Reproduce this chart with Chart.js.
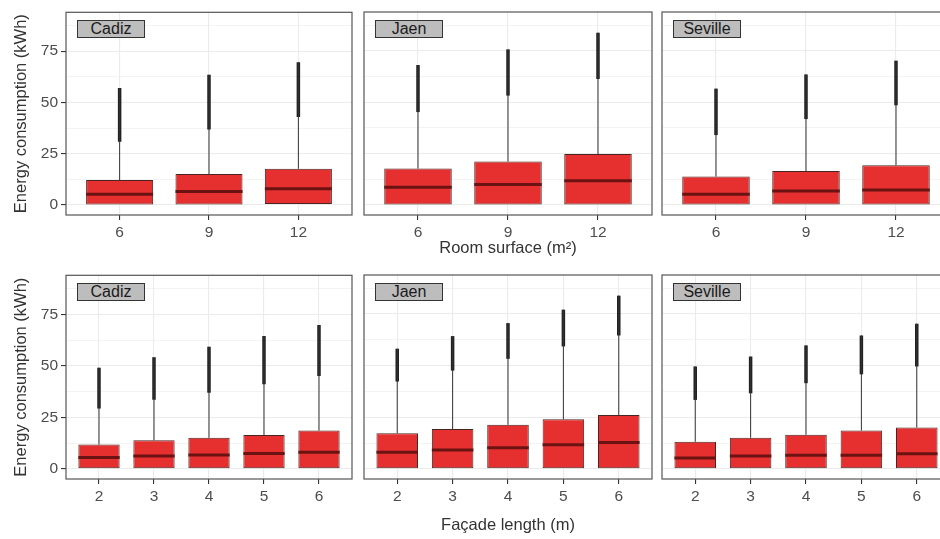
<!DOCTYPE html>
<html>
<head>
<meta charset="utf-8">
<script src="https://cdn.jsdelivr.net/npm/chart.js@4.4.1/dist/chart.umd.min.js"></script>
<style>
  body { margin: 0; width: 940px; height: 539px; overflow: hidden; background: #fff; position: relative;
         font-family: "Liberation Sans", Arial, sans-serif; }
  .panel { position: absolute; }
  .strip { position: absolute; width: 66px; height: 16px; background: #bdbdbd; border: 1px solid #333;
           font-size: 16px; line-height: 16px; text-align: center; color: #1a1a1a; }
</style>
</head>
<body>
<script>
// facets and x categories
const cities = ['Cadiz', 'Jaen', 'Seville'];
const roomLabels = ['6', '9', '12'];
const facadeLabels = ['2', '3', '4', '5', '6'];

// room surface boxplots, one row per city (kWh)
const roomQ1      = [[0, 0, 0.5], [0, 0, 0], [0, 0, 0]];
const roomMedian  = [[5.2, 6.6, 7.9], [8.6, 10.0, 11.8], [5.2, 6.8, 7.3]];
const roomQ3      = [[12.2, 15.1, 17.7], [17.7, 21.1, 24.8], [13.8, 16.5, 19.3]];
const roomWhisker = [[30.8, 36.8, 42.9], [45.2, 53.2, 61.3], [34.0, 41.8, 48.5]];
const roomMax     = [[57.0, 63.4, 69.5], [68.1, 75.7, 83.8], [56.6, 63.5, 70.2]];

// facade length boxplots, one row per city (kWh)
const facadeQ1      = [[0, 0, 0, 0, 0], [0, 0, 0, 0, 0], [0, 0, 0, 0, 0]];
const facadeMedian  = [[5.5, 6.2, 6.8, 7.5, 8.1], [8.1, 9.2, 10.2, 11.7, 12.8], [5.3, 6.2, 6.6, 6.6, 7.3]];
const facadeQ3      = [[11.8, 13.9, 15.1, 16.5, 18.6], [17.2, 19.3, 21.4, 24.0, 26.1], [13.1, 15.1, 16.5, 18.6, 20.1]];
const facadeWhisker = [[29.3, 33.5, 36.9, 41.0, 45.0], [42.3, 47.6, 53.3, 59.3, 64.6], [33.4, 36.6, 41.5, 45.8, 49.6]];
const facadeMax     = [[49.1, 54.1, 59.3, 64.5, 69.8], [58.2, 64.3, 70.6, 77.1, 83.9], [49.6, 54.4, 59.8, 64.6, 70.3]];

const yTicks = [0, 25, 50, 75];

const boxFill = '#e5302f';
const boxLine = '#4a2323';
const medianColor = '#6b1212';
const gridColor = '#ebebeb';

const panelBorder = {
  id: 'panelBorder',
  afterDatasetsDraw(chart) {
    const a = chart.chartArea, ctx = chart.ctx;
    ctx.save();
    ctx.strokeStyle = '#555';
    ctx.lineWidth = 1.2;
    ctx.strokeRect(a.left, a.top, a.width, a.height);
    ctx.restore();
  }
};

const cols = [
  { left: 0, width: 353 },
  { left: 363, width: 290 },
  { left: 661, width: 290 }
];
const rows = [
  { top: 0, height: 262, xh: 47, labels: roomLabels, title: 'Room surface (m²)',
    q1: roomQ1, med: roomMedian, q3: roomQ3, wh: roomWhisker, mx: roomMax },
  { top: 263, height: 276, xh: 60, labels: facadeLabels, title: 'Façade length (m)',
    q1: facadeQ1, med: facadeMedian, q3: facadeQ3, wh: facadeWhisker, mx: facadeMax }
];

rows.forEach(row => {
  cols.forEach((col, c) => {
    const box = document.createElement('div');
    box.className = 'panel';
    box.style.left = col.left + 'px';
    box.style.top = row.top + 'px';
    const canvas = document.createElement('canvas');
    canvas.width = col.width;
    canvas.height = row.height;
    box.appendChild(canvas);
    document.body.appendChild(box);

    const labels = row.labels;
    const idx = labels.map((_, i) => i);
    const span = (lo, hi) => idx.map(i => ({ x: i, y: [lo[c][i], hi[c][i]] }));
    const isLeft = c === 0, isMid = c === 1;

    const chart = new Chart(canvas, {
      type: 'bar',
      data: {
        datasets: [
          {
            type: 'line', order: 0, showLine: false,
            data: idx.map(i => ({ x: i, y: row.med[c][i] })),
            pointStyle: 'line',
            pointRadius: ctx => {
              const s = ctx.chart.scales.x;
              return Math.abs(s.getPixelForValue(1) - s.getPixelForValue(0)) * 0.375;
            },
            pointHoverRadius: 0,
            pointBorderWidth: 3,
            pointBorderColor: medianColor
          },
          {
            order: 1, data: span(row.q1, row.q3),
            backgroundColor: boxFill, borderColor: boxLine, borderWidth: 1, borderSkipped: false,
            grouped: false, categoryPercentage: 1, barPercentage: 0.75
          },
          {
            order: 2, data: span(row.q3, row.mx),
            backgroundColor: '#333', maxBarThickness: 1, grouped: false
          },
          {
            order: 3, data: span(row.wh, row.mx),
            backgroundColor: '#222', maxBarThickness: 3.5, grouped: false
          }
        ]
      },
      options: {
        responsive: false,
        animation: false,
        events: [],
        layout: { padding: { top: 12, left: isLeft ? 0 : 1, right: 1, bottom: 0 } },
        plugins: { legend: { display: false }, tooltip: { enabled: false } },
        scales: {
          x: {
            type: 'linear', min: -0.6, max: labels.length - 0.4, offset: false,
            afterFit: s => { s.height = row.xh; },
            ticks: {
              stepSize: 1, includeBounds: false, padding: 3,
              color: '#4d4d4d', font: { family: 'Liberation Sans', size: 15.5 },
              callback: v => labels[Math.round(v)] ?? ''
            },
            grid: { offset: false, color: gridColor, lineWidth: 1.1, tickLength: 5, tickColor: '#333' },
            border: { display: false },
            title: {
              display: isMid, text: row.title, color: '#333',
              font: { family: 'Liberation Sans', size: 16.5 }, padding: { top: 0, bottom: 4 }
            }
          },
          y: {
            type: 'linear', min: -4.9, max: 93.9,
            afterFit: s => { s.width = isLeft ? 66 : 0; },
            ticks: {
              display: isLeft, stepSize: 12.5, includeBounds: false, padding: 3,
              color: '#4d4d4d', font: { family: 'Liberation Sans', size: 15.5 },
              callback: v => yTicks.includes(v) ? v : ''
            },
            grid: {
              color: gridColor,
              lineWidth: ctx => yTicks.includes(ctx.tick.value) ? 1.1 : 0.6,
              drawTicks: isLeft, tickLength: 5,
              tickColor: ctx => yTicks.includes(ctx.tick.value) ? '#333' : 'rgba(0,0,0,0)'
            },
            border: { display: false },
            title: {
              display: isLeft, text: 'Energy consumption (kWh)', color: '#333',
              font: { family: 'Liberation Sans', size: 16.5 }, padding: { top: 12, bottom: 0 }
            }
          }
        }
      },
      plugins: [panelBorder]
    });

    const a = chart.chartArea;
    const strip = document.createElement('div');
    strip.className = 'strip';
    strip.textContent = cities[c];
    strip.style.left = (col.left + a.left + 11) + 'px';
    strip.style.top = (row.top + a.top + 8) + 'px';
    document.body.appendChild(strip);
  });
});
</script>
</body>
</html>
